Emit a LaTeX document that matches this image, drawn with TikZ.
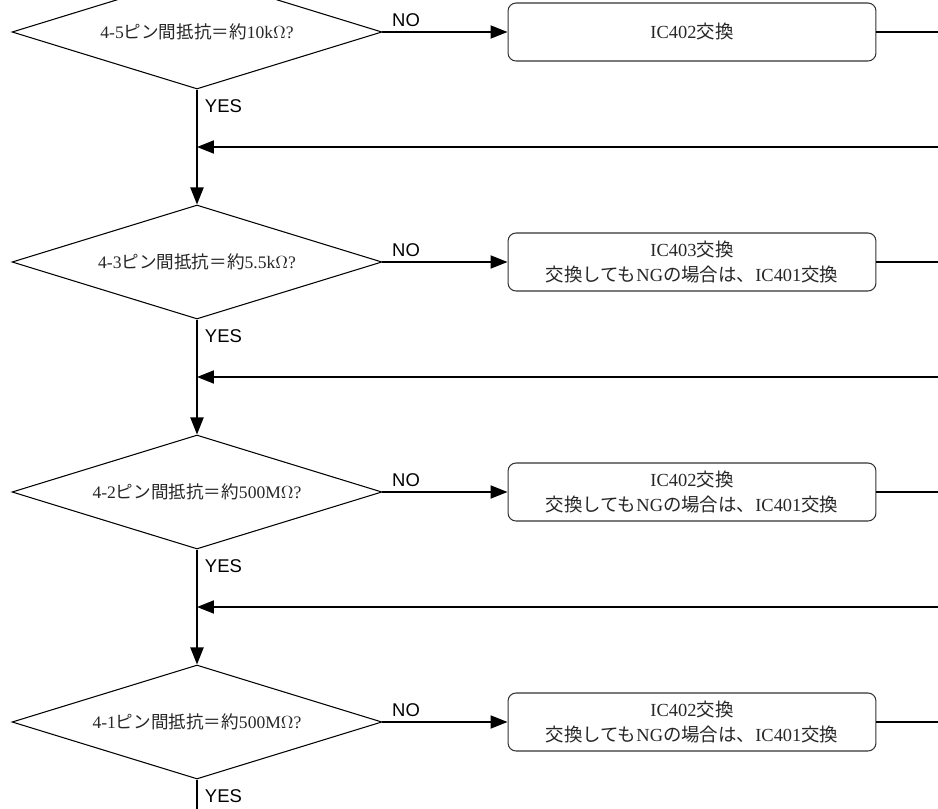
\documentclass[tikz,border=0pt]{standalone}
\usepackage{fontspec}
\setmainfont{Liberation Serif}
\newfontfamily\jpfont{Noto Sans CJK JP}
\newfontfamily\tagfont{Liberation Sans}
\usetikzlibrary{shapes.geometric,arrows.meta,positioning}
\newcommand{\jp}[1]{{\jpfont #1}}

\tikzset{
  check/.style={diamond,draw,line width=.6pt,aspect=3.25,inner sep=0pt,
    minimum width=7.4cm,minimum height=2.28cm,text=black!85,font=\fontsize{10}{11}\selectfont},
  fixbox/.style={draw=black!80,rounded corners=.16cm,line width=.6pt,align=center,text=black!85,
    minimum width=7.36cm,minimum height=1.16cm,font=\fontsize{10.5}{14}\selectfont},
  flow/.style={line width=1.1pt,-{Triangle[length=.34cm,width=.26cm]}},
  plain/.style={line width=1.1pt},
  tag/.style={font=\tagfont\fontsize{10.5}{11}\selectfont,inner sep=0pt}
}

\begin{document}
\begin{tikzpicture}[x=.02cm,y=-.02cm]
\path[use as bounding box] (0,0) rectangle (938,809);
\clip (0,0) rectangle (938,809);

% checks
\node[check] (d1) at (197,32) {4-5\jp{ピン間抵抗＝約}10k$\Omega$?};
\node[check] (d2) at (197,262) {4-3\jp{ピン間抵抗＝約}5.5k$\Omega$?};
\node[check] (d3) at (197,492) {4-2\jp{ピン間抵抗＝約}500M$\Omega$?};
\node[check] (d4) at (197,722) {4-1\jp{ピン間抵抗＝約}500M$\Omega$?};

% repairs
\node[fixbox] (f1) at (692,32) {IC402\jp{交換}};
\node[fixbox] (f2) at (692,262) {IC403\jp{交換}\\\jp{交換しても}NG\jp{の場合は、}IC401\jp{交換}};
\node[fixbox] (f3) at (692,492) {IC402\jp{交換}\\\jp{交換しても}NG\jp{の場合は、}IC401\jp{交換}};
\node[fixbox] (f4) at (692,722) {IC402\jp{交換}\\\jp{交換しても}NG\jp{の場合は、}IC401\jp{交換}};

% right edge ends
\coordinate (e1) at (938,32);
\coordinate (e2) at (938,262);
\coordinate (e3) at (938,492);
\coordinate (e4) at (938,722);
\coordinate (r1) at (938,147);
\coordinate (r2) at (938,377);
\coordinate (r3) at (938,607);
\coordinate (bottom) at (197,809);

% NO branches
\draw[flow] (d1.east) -- node[tag,pos=0,anchor=south west,xshift=5pt,yshift=2.5pt] (no1) {NO} (f1.west);
\draw[flow] (d2.east) -- node[tag,pos=0,anchor=south west,xshift=5pt,yshift=2.5pt] (no2) {NO} (f2.west);
\draw[flow] (d3.east) -- node[tag,pos=0,anchor=south west,xshift=5pt,yshift=2.5pt] (no3) {NO} (f3.west);
\draw[flow] (d4.east) -- node[tag,pos=0,anchor=south west,xshift=5pt,yshift=2.5pt] (no4) {NO} (f4.west);
\draw[plain] (f1.east) -- (e1);
\draw[plain] (f2.east) -- (e2);
\draw[plain] (f3.east) -- (e3);
\draw[plain] (f4.east) -- (e4);

% returns
\draw[flow] (r1) -- (r1 -| d1.south);
\draw[flow] (r2) -- (r2 -| d2.south);
\draw[flow] (r3) -- (r3 -| d3.south);

% YES branches
\draw[flow] (d1.south) -- node[tag,pos=0,anchor=north west,xshift=4pt,yshift=-5pt] (yes1) {YES} (d2.north);
\draw[flow] (d2.south) -- node[tag,pos=0,anchor=north west,xshift=4pt,yshift=-5pt] (yes2) {YES} (d3.north);
\draw[flow] (d3.south) -- node[tag,pos=0,anchor=north west,xshift=4pt,yshift=-5pt] (yes3) {YES} (d4.north);
\draw[plain] (d4.south) -- node[tag,pos=0,anchor=north west,xshift=4pt,yshift=-5pt] (yes4) {YES} (bottom);
\end{tikzpicture}
\end{document}
